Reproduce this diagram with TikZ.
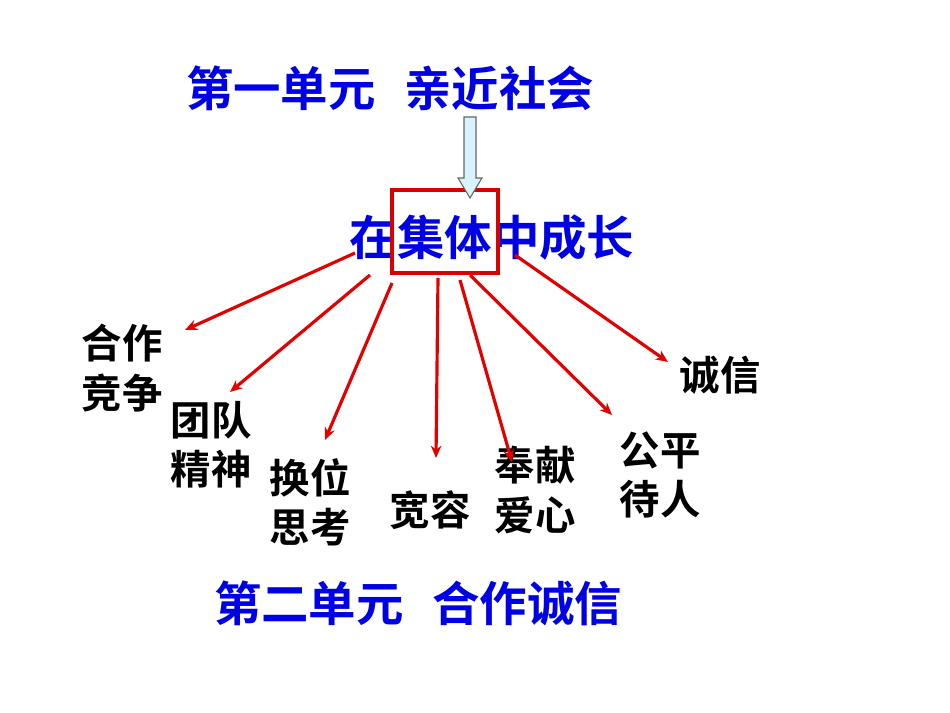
\documentclass[tikz,border=0pt]{standalone}
\usetikzlibrary{arrows.meta}
\usepackage{fontspec}
\newfontfamily\cjk{Noto Sans CJK SC}[BoldFont={Noto Sans CJK SC Bold}]
\begin{document}
\begin{tikzpicture}[x=0.02cm,y=-0.02cm,
  title/.style={font=\cjk\bfseries\fontsize{27}{30}\selectfont,text=blue!90!black,inner sep=0},
  lab/.style={font=\cjk\bfseries\fontsize{23}{28}\selectfont,align=center,inner sep=0},
  rarr/.style={draw=red!90!black,line width=1.8pt,-{Stealth[length=7pt,width=6pt]}}]
\useasboundingbox (0,0) rectangle (950,713);
\node[title] (t1) at (390,88) {第一单元\hspace{0.6em}亲近社会};
\node[title] (c) at (492,238) {在集体中成长};
\node[title] (t2) at (418,603) {第二单元\hspace{0.6em}合作诚信};
\draw[red!85!black,line width=2.2pt] (392,190) rectangle (498,273);
\draw[gray!80!black,fill=cyan!15,line width=0.6pt] (464,117)--(476,117)--(476,178)--(482,178)--(470,198)--(458,178)--(464,178)--cycle;
\node[lab] (a1) at (122,368) {合作\\竞争};
\node[lab] (a2) at (211,445) {团队\\精神};
\node[lab] (a3) at (310,502) {换位\\思考};
\node[lab] (a4) at (430,510) {宽容};
\node[lab] (a5) at (535,490) {奉献\\爱心};
\node[lab] (a6) at (660,475) {公平\\待人};
\node[lab] (a7) at (720,375) {诚信};
\coordinate (s1) at (355,253); \coordinate (e1) at (185,330);
\coordinate (s2) at (370,275); \coordinate (e2) at (230,392);
\coordinate (s3) at (392,283); \coordinate (e3) at (325,440);
\coordinate (s4) at (438,278); \coordinate (e4) at (436,458);
\coordinate (s5) at (460,280); \coordinate (e5) at (512,462);
\coordinate (s6) at (470,275); \coordinate (e6) at (612,415);
\coordinate (s7) at (515,255); \coordinate (e7) at (668,362);
\foreach \i in {1,...,7}{\draw[rarr] (s\i)--(e\i);}
\end{tikzpicture}
\end{document}
